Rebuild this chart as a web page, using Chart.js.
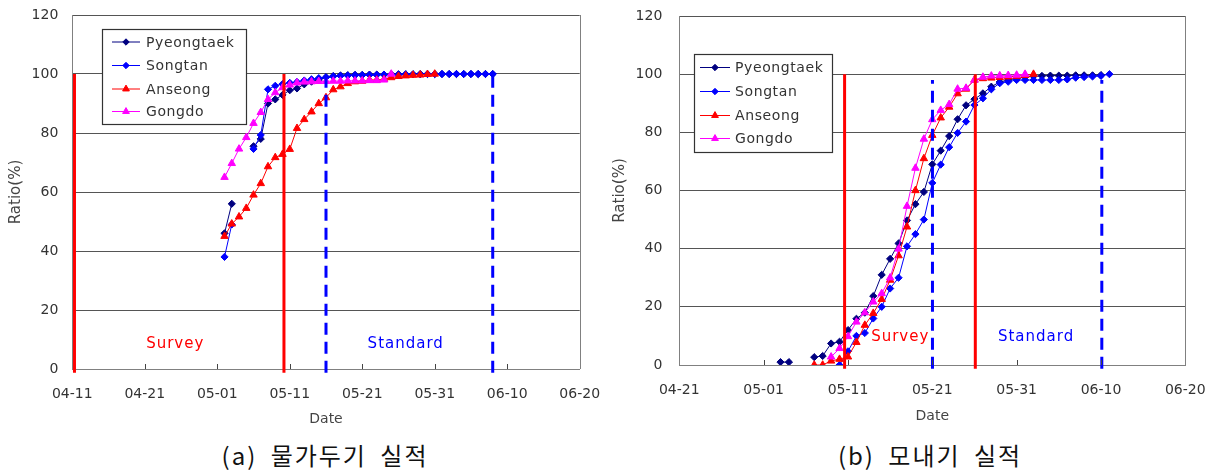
<!DOCTYPE html>
<html>
<head>
<meta charset="utf-8">
<script src="https://cdn.jsdelivr.net/npm/chart.js@4.4.1/dist/chart.umd.min.js"></script>
<style>
  html, body { margin: 0; padding: 0; background: #fff; }
  #wrap { position: relative; width: 1217px; height: 474px; overflow: hidden; }
  canvas { position: absolute; top: 0; }
  #chartA { left: 0; }
  #chartB { left: 600px; }
  .cap {
    position: absolute; top: 437px; transform: translateX(-50%);
    font-family: "Noto Sans CJK KR", sans-serif; font-size: 24px; color: #111;
    white-space: nowrap; letter-spacing: 2px; word-spacing: 6px;
  }
</style>
</head>
<body>
<div id="wrap">
  <canvas id="chartA" width="610" height="430"></canvas>
  <canvas id="chartB" width="617" height="430"></canvas>
  <div class="cap" style="left:325px">(a) 물가두기 실적</div>
  <div class="cap" style="left:930px">(b) 모내기 실적</div>
</div>
<script>
// Dates are counted in days from April 1 (04-11 = 10, 05-01 = 30, 06-10 = 70).
const seriesNames = ['Pyeongtaek', 'Songtan', 'Anseong', 'Gongdo'];

// (a) 물가두기 — cumulative ratio (%) per day
const aTickValues = [10, 20, 30, 40, 50, 60, 70, 80];
const aTickLabels = ['04-11', '04-21', '05-01', '05-11', '05-21', '05-31', '06-10', '06-20'];
const aDays = [31, 32, 33, 34, 35, 36, 37, 38, 39, 40, 41, 42, 43, 44, 45, 46, 47, 48, 49, 50,
               51, 52, 53, 54, 55, 56, 57, 58, 59, 60, 61, 62, 63, 64, 65, 66, 67, 68];
const aPyeongtaek = [46, 56, null, null, 75.5, 78, 90, 91.4, 92.9, 94.5,
                     95.1, 96.5, 97.4, 98, 98.9, 99.3, 99.5, 99.6, 99.7, 99.7,
                     99.8, 99.8, 99.8, 99.9, 99.9, 99.9, 99.9, 100, 100, 100,
                     100, 100, 100, 100, 100, 100, 100, 100];
const aSongtan = [38, 49, null, null, 74.6, 79.3, 94.8, 96, 96.6, 97,
                  97.3, 97.8, 98.2, 98.6, 98.9, 99.2, 99.4, 99.5, 99.6, 99.6,
                  99.7, 99.7, 99.8, 99.8, 99.8, 99.9, 99.9, 99.9, 100, 100,
                  100, 100, 100, 100, 100, 100, 100, 100];
const aAnseong = [45, 49.2, 51.6, 54.5, 59, 62.9, 68.6, 71.7, 72.8, 74.5,
                  81.6, 84.6, 87.2, 90, 92, 94.7, 95.7, 96.8, 97.4, 97.6,
                  98, 98, 98.2, 98.8, 99.2, 99.4, 99.6, 99.7, 99.9, 100,
                  null, null, null, null, null, null, null, null];
const aGongdo = [65, 69.7, 74.6, 78.5, 83.3, 87, 91.4, 93.7, 95.4, 96.3,
                 97, 97.3, 97.4, 97.5, 97.5, 97.6, 97.6, 97.7, 97.7, 97.7,
                 97.8, 97.8, 98, 100, null, null, null, null, null, null,
                 null, null, null, null, null, null, null, null];
const aSurveyDays = [10.3, 39.2];
const aStandardDays = [45, 68];

// (b) 모내기 — cumulative ratio (%) per day
const bTickValues = [20, 30, 40, 50, 60, 70, 80];
const bTickLabels = ['04-21', '05-01', '05-11', '05-21', '05-31', '06-10', '06-20'];
const bDays = [32, 33, 34, 35, 36, 37, 38, 39, 40, 41, 42, 43, 44, 45, 46, 47, 48, 49, 50, 51,
               52, 53, 54, 55, 56, 57, 58, 59, 60, 61, 62, 63, 64, 65, 66, 67, 68, 69, 70, 71];
const bPyeongtaek = [1, 1, null, null, 2.7, 3.1, 7.4, 8, 12, 15.9,
                     18, 23.7, 31, 36.5, 41.8, 49.7, 55.3, 59.5, 69, 73.7,
                     78.7, 84.5, 89.3, 91.4, 93.4, 95.7, 97.3, 98, 98.5, 99,
                     99.3, 99.4, 99.5, 99.5, 99.5, 99.6, 99.6, 99.6, 99.7, null];
const bSongtan = [null, null, null, null, null, null, null, 0, 4.7, 10,
                  11, 16, 20, 26.3, 30, 40.8, 45, 50, 62.6, 68.9,
                  74.9, 79.8, 83.7, 89.4, 91.7, 94.8, 96.9, 97.4, 98, 98,
                  98, 98, 98, 98, 98.2, 98.8, 99, 99.2, 99.4, 100];
const bAnseong = [null, null, null, null, 0, 0, 1.4, 2, 2.8, 7.8,
                  13.7, 17.8, 22.6, 29.2, 37.6, 47.5, 60, 71, 79, 85,
                  88.7, 93.3, 94.9, 98, 98.5, 98.7, 98.9, 99.1, 99.3, 99.6,
                  100, null, null, null, null, null, null, null, null, null];
const bGongdo = [null, null, null, null, null, null, 2.8, 5.7, 9.8, 14.8,
                 18, 21.7, 24.6, 30, 39.9, 54.6, 67.7, 77.7, 84.4, 87.6,
                 89.6, 94.9, 95.2, 98, 99, 99.4, 99.5, 99.6, 99.7, 100,
                 null, null, null, null, null, null, null, null, null, null];
const bSurveyDays = [39.6, 55.1];
const bStandardDays = [50.02, 70.1];

// Series styling
const seriesColors = ['#000080', '#0000FF', '#FF0000', '#FF00FF'];
const seriesMarkers = ['rectRot', 'rectRot', 'triangle', 'triangle'];
const markerRadii = [3.6, 3.6, 4.3, 4.3];
const SURVEY_COLOR = '#FF0000';
const STANDARD_COLOR = '#0000FF';
const TEXT_COLOR = '#333';

Chart.defaults.font.family = '"DejaVu Sans", sans-serif';

function seriesDataset(days, values, i) {
  return {
    label: seriesNames[i],
    data: days.map((d, k) => ({ x: d, y: values[k] })),
    borderColor: seriesColors[i],
    backgroundColor: seriesColors[i],
    borderWidth: 1,
    pointStyle: seriesMarkers[i],
    pointRadius: markerRadii[i],
    pointBorderWidth: 1,
    spanGaps: false,
    tension: 0,
    order: 4 - i
  };
}

function guideDataset(day, top, color, dashed) {
  return {
    label: '',
    data: [{ x: day, y: -1.3 }, { x: day, y: top }],
    borderColor: color,
    borderWidth: 3,
    borderDash: dashed ? [12, 7] : [],
    pointRadius: 0,
    clip: false,
    order: 0
  };
}

// Frame edge, inward date ticks, region notes and the boxed legend
const chartDecor = {
  id: 'chartDecor',
  afterDraw(chart, args, o) {
    const ctx = chart.ctx, area = chart.chartArea;
    const xs = chart.scales.x, ys = chart.scales.y;
    ctx.save();
    ctx.strokeStyle = '#808080';
    ctx.lineWidth = 1;
    const rx = Math.round(area.right) + 0.5;
    ctx.beginPath();
    ctx.moveTo(rx, area.top);
    ctx.lineTo(rx, area.bottom);
    ctx.stroke();

    ctx.strokeStyle = '#444';
    xs.ticks.forEach(t => {
      if (t.value === xs.min || t.value === xs.max) return;
      const px = Math.round(xs.getPixelForValue(t.value)) + 0.5;
      ctx.beginPath();
      ctx.moveTo(px, area.bottom);
      ctx.lineTo(px, area.bottom - 5);
      ctx.stroke();
    });

    ctx.font = '15px "DejaVu Sans"';
    ctx.letterSpacing = '1px';
    ctx.textAlign = 'center';
    ctx.textBaseline = 'middle';
    o.notes.forEach(n => {
      ctx.fillStyle = n.color;
      ctx.fillText(n.text, xs.getPixelForValue(n.x), ys.getPixelForValue(n.y));
    });

    const L = o.legend;
    ctx.fillStyle = '#fff';
    ctx.fillRect(L.x, L.y, L.w, L.h);
    ctx.strokeStyle = '#333';
    ctx.lineWidth = 1.2;
    ctx.strokeRect(L.x, L.y, L.w, L.h);
    ctx.font = '14px "DejaVu Sans"';
    ctx.letterSpacing = '0.6px';
    ctx.textAlign = 'left';
    seriesNames.forEach((name, i) => {
      const y = L.rows[i];
      ctx.strokeStyle = seriesColors[i];
      ctx.fillStyle = seriesColors[i];
      ctx.lineWidth = 1;
      ctx.beginPath();
      ctx.moveTo(L.lineX[0], y);
      ctx.lineTo(L.lineX[1], y);
      ctx.stroke();
      Chart.helpers.drawPoint(ctx, {
        pointStyle: seriesMarkers[i], radius: markerRadii[i] - 0.4, rotation: 0, borderWidth: 1
      }, (L.lineX[0] + L.lineX[1]) / 2, y);
      ctx.fillStyle = TEXT_COLOR;
      ctx.fillText(name, L.textX, y + 1);
    });
    ctx.restore();
  }
};

function buildChart(id, c) {
  const datasets = [];
  c.survey.forEach(d => datasets.push(guideDataset(d, 100, SURVEY_COLOR, false)));
  c.standard.forEach(d => datasets.push(guideDataset(d, c.standardTop, STANDARD_COLOR, true)));
  c.series.forEach((vals, i) => datasets.push(seriesDataset(c.days, vals, i)));

  return new Chart(document.getElementById(id), {
    type: 'line',
    data: { datasets },
    plugins: [chartDecor],
    options: {
      responsive: false,
      animation: false,
      events: [],
      layout: { padding: { left: 0, top: c.top, right: c.right, bottom: 0 } },
      plugins: {
        legend: { display: false },
        tooltip: { enabled: false },
        chartDecor: { notes: c.notes, legend: c.legend }
      },
      scales: {
        x: {
          type: 'linear',
          min: c.tickValues[0],
          max: c.tickValues[c.tickValues.length - 1],
          afterBuildTicks: s => { s.ticks = c.tickValues.map(v => ({ value: v })); },
          afterFit: s => { s.height = c.xHeight; },
          ticks: {
            autoSkip: false, maxRotation: 0, padding: c.xPad,
            color: TEXT_COLOR, font: { size: 14 },
            callback: v => c.tickLabels[c.tickValues.indexOf(v)]
          },
          grid: { display: false },
          border: { display: true, color: '#808080', width: 1 },
          title: {
            display: true, text: 'Date', color: '#444', font: { size: 14 },
            padding: { top: 0, bottom: c.datePad }
          }
        },
        y: {
          min: 0, max: 120,
          afterFit: s => { s.width = c.yWidth; },
          ticks: { stepSize: 20, padding: 0, color: TEXT_COLOR, font: { size: 14 } },
          // the label gap is kept as an invisible tick mark so it does not widen the layout padding
          grid: { color: '#555', lineWidth: 1, drawTicks: true, tickLength: c.yGap, tickColor: 'rgba(0,0,0,0)' },
          border: { display: true, color: '#808080', width: 1 },
          title: {
            display: true, text: 'Ratio(%)', color: '#444', font: { size: 15 },
            padding: { top: c.ratioPad, bottom: 0 }
          }
        }
      }
    }
  });
}

buildChart('chartA', {
  days: aDays,
  series: [aPyeongtaek, aSongtan, aAnseong, aGongdo],
  tickValues: aTickValues, tickLabels: aTickLabels,
  survey: aSurveyDays, standard: aStandardDays, standardTop: 100,
  top: 15, right: 30.3, yWidth: 72.3, xHeight: 61,
  xPad: 8.5, yGap: 14, datePad: 2, ratioPad: 7,
  notes: [
    { text: 'Survey', x: 24.2, y: 8.5, color: SURVEY_COLOR },
    { text: 'Standard', x: 56, y: 8.5, color: STANDARD_COLOR }
  ],
  legend: { x: 102.5, y: 29.5, w: 144, h: 95, rows: [42, 65.5, 89, 111.5], lineX: [112, 140], textX: 146 }
});

buildChart('chartB', {
  days: bDays,
  series: [bPyeongtaek, bSongtan, bAnseong, bGongdo],
  tickValues: bTickValues, tickLabels: bTickLabels,
  survey: bSurveyDays, standard: bStandardDays, standardTop: 98,
  top: 16, right: 31.7, yWidth: 79.3, xHeight: 65,
  xPad: 8.5, yGap: 17, datePad: 5, ratioPad: 11,
  notes: [
    { text: 'Survey', x: 46.2, y: 9.6, color: SURVEY_COLOR },
    { text: 'Standard', x: 62.3, y: 9.6, color: STANDARD_COLOR }
  ],
  legend: { x: 94.5, y: 54.5, w: 138, h: 98, rows: [67.5, 91.5, 115.5, 138.5], lineX: [100, 130], textX: 135 }
});
</script>
</body>
</html>
